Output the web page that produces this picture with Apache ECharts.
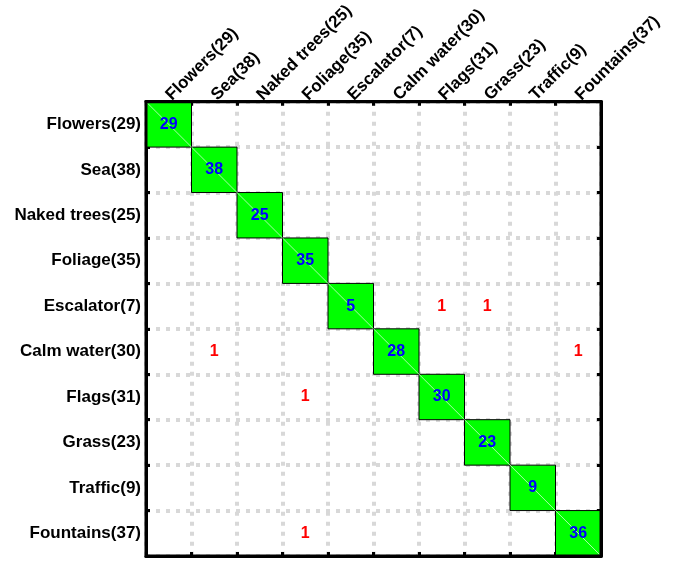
<!DOCTYPE html>
<html>
<head>
<meta charset="utf-8">
<script src="https://cdn.jsdelivr.net/npm/echarts@6/dist/echarts.min.js"></script>
<style>html,body{margin:0;padding:0;background:#fff}#chart{width:683px;height:563px}</style>
</head>
<body>
<div id="chart"></div>
<script>
// Class labels (true classes on rows, predicted classes on columns)
const categories = ['Flowers(29)', 'Sea(38)', 'Naked trees(25)', 'Foliage(35)', 'Escalator(7)',
  'Calm water(30)', 'Flags(31)', 'Grass(23)', 'Traffic(9)', 'Fountains(37)'];

// Confusion counts, one row per true class
const rowFlowers   = [29, 0, 0, 0, 0, 0, 0, 0, 0, 0];
const rowSea       = [0, 38, 0, 0, 0, 0, 0, 0, 0, 0];
const rowNaked     = [0, 0, 25, 0, 0, 0, 0, 0, 0, 0];
const rowFoliage   = [0, 0, 0, 35, 0, 0, 0, 0, 0, 0];
const rowEscalator = [0, 0, 0, 0, 5, 0, 1, 1, 0, 0];
const rowCalm      = [0, 1, 0, 0, 0, 28, 0, 0, 0, 1];
const rowFlags     = [0, 0, 0, 1, 0, 0, 30, 0, 0, 0];
const rowGrass     = [0, 0, 0, 0, 0, 0, 0, 23, 0, 0];
const rowTraffic   = [0, 0, 0, 0, 0, 0, 0, 0, 9, 0];
const rowFountains = [0, 0, 0, 1, 0, 0, 0, 0, 0, 36];

const counts = [rowFlowers, rowSea, rowNaked, rowFoliage, rowEscalator,
  rowCalm, rowFlags, rowGrass, rowTraffic, rowFountains];

const data = [];
counts.forEach((row, r) => row.forEach((v, c) => { if (v > 0) data.push([c, r, v]); }));

const FONT = '"Liberation Sans", Arial, sans-serif';
const chart = echarts.init(document.getElementById('chart'));

const frameLine = { show: true, lineStyle: { color: '#000', width: 3 } };
const innerTick = { show: true, inside: true, length: 4, interval: 0, lineStyle: { color: '#000', width: 3 } };
const dashGrid = { show: true, interval: 0, lineStyle: { color: '#d8d8d8', width: 4, type: [4, 6] } };

chart.setOption({
  animation: false,
  backgroundColor: '#fff',
  grid: { left: 146, top: 101, width: 455, height: 455, show: true, borderColor: '#000', borderWidth: 3, backgroundColor: 'transparent', z: 10 },
  xAxis: [
    { type: 'category', data: categories, position: 'top', z: 5,
      axisLine: frameLine, axisTick: innerTick, splitLine: { show: false },
      axisLabel: { rotate: -45, margin: 4, color: '#000', fontSize: 17, fontWeight: 'bold', fontFamily: FONT, interval: 0 } },
    { type: 'category', data: categories, position: 'bottom', z: 5,
      axisLine: frameLine, axisTick: innerTick, axisLabel: { show: false }, splitLine: dashGrid }
  ],
  yAxis: [
    { type: 'category', data: categories, inverse: true, position: 'left', z: 5,
      axisLine: frameLine, axisTick: innerTick, splitLine: dashGrid,
      axisLabel: { margin: 5, color: '#000', fontSize: 17, fontWeight: 'bold', fontFamily: FONT, interval: 0 } },
    { type: 'category', data: categories, inverse: true, position: 'right', z: 5,
      axisLine: frameLine, axisTick: innerTick, axisLabel: { show: false }, splitLine: { show: false } }
  ],
  series: [{
    type: 'custom',
    xAxisIndex: 0, yAxisIndex: 0,
    z: 6,
    data: data,
    renderItem: function (params, api) {
      const x = api.value(0), y = api.value(1), v = api.value(2);
      const p = api.coord([x, y]);
      const s = api.size([1, 1]);
      const rx = p[0] - s[0] / 2, ry = p[1] - s[1] / 2;
      const diag = x === y;
      const children = [];
      if (diag) {
        children.push({ type: 'rect', shape: { x: rx, y: ry, width: s[0], height: s[1] },
          style: { fill: '#00ff00', stroke: '#000', lineWidth: 1 } });
        children.push({ type: 'line', shape: { x1: rx, y1: ry, x2: rx + s[0], y2: ry + s[1] },
          style: { stroke: '#a8ffa8', lineWidth: 1 } });
      }
      children.push({ type: 'text', x: p[0], y: p[1],
        style: { text: String(v), fill: diag ? '#0000ff' : '#ff0000',
          font: 'bold 16px ' + FONT, align: 'center', verticalAlign: 'middle' } });
      return { type: 'group', children: children };
    }
  }]
});
</script>
</body>
</html>
